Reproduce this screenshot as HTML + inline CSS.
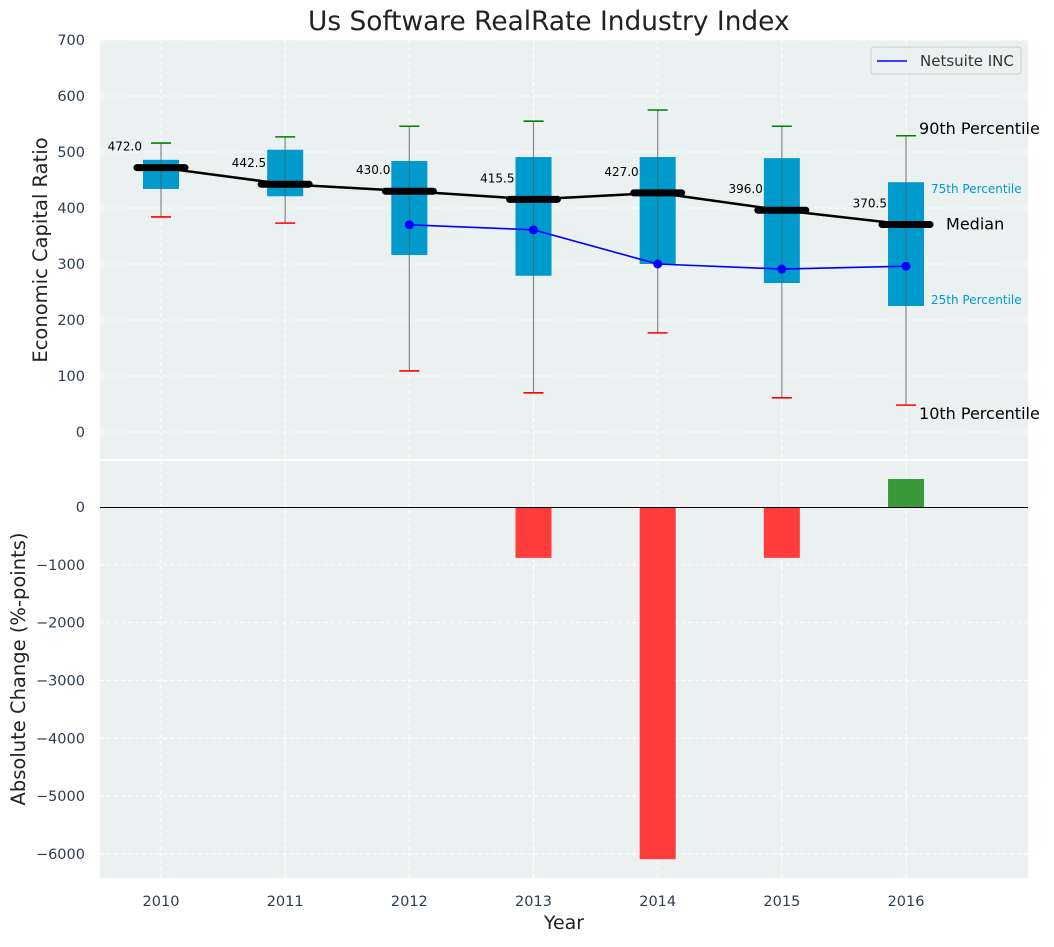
<!DOCTYPE html>
<html><head><meta charset="utf-8"><style>
body{margin:0;background:#fff;font-family:"Liberation Sans","DejaVu Sans",sans-serif}
svg text{font-family:"DejaVu Sans","Liberation Sans",sans-serif}
</style></head><body>
<svg id="c" width="1054" height="942" xmlns="http://www.w3.org/2000/svg"></svg>
<script>
const years=["2010","2011","2012","2013","2014","2015","2016"];
const p10=[384,373,109,70,177,61,48];
const p25=[434,421,316,279,300,266,225];
const medians=[472.0,442.5,430.0,415.5,427.0,396.0,370.5];
const p75=[486,504,484,491,491,489,446];
const p90=[516,527,546,555,575,546,529];
const netsuite=[null,null,370,361,300,291,296];
const changes=[null,null,null,-880,-6090,-880,484];
const yTicksTop=[0,100,200,300,400,500,600,700];
const yTicksBot=[0,-1000,-2000,-3000,-4000,-5000,-6000];

const NS="http://www.w3.org/2000/svg";
const svg=document.getElementById('c');
function el(t,a,p){const e=document.createElementNS(NS,t);for(const k in a)e.setAttribute(k,a[k]);(p||svg).appendChild(e);return e;}
const X=i=>161+i*124.17;
const Y1=v=>432-v*0.56;
const Y2=v=>507-v*0.05783;
const L=100,R=1028;
let b=el('rect',{x:L,y:40,width:R-L,height:419,fill:'#ebf0f0'});

b=el('rect',{x:L,y:461,width:R-L,height:417,fill:'#ebf0f0'});

yTicksTop.forEach(v=>{el('line',{x1:L,x2:R,y1:Y1(v),y2:Y1(v),stroke:'#fff','stroke-dasharray':'4,3'});
 const t=el('text',{x:85,y:Y1(v)+5,'text-anchor':'end','font-size':14.5,fill:'#2d3e50'});t.textContent=v;
 });
yTicksBot.forEach(v=>{el('line',{x1:L,x2:R,y1:Y2(v),y2:Y2(v),stroke:'#fff','stroke-dasharray':'4,3'});
 const t=el('text',{x:85,y:Y2(v)+5,'text-anchor':'end','font-size':14.5,fill:'#2d3e50'});t.textContent=String(v).replace('-','\u2212');
 });
years.forEach((y,i)=>{
 el('line',{x1:X(i),x2:X(i),y1:40,y2:459,stroke:'#fff','stroke-dasharray':'4,3'});
 el('line',{x1:X(i),x2:X(i),y1:461,y2:878,stroke:'#fff','stroke-dasharray':'4,3'});
 const t=el('text',{x:X(i),y:906,'text-anchor':'middle','font-size':14.5,fill:'#2d3e50'});t.textContent=y;
 
});
years.forEach((y,i)=>{
 const x=X(i);
 let w=el('line',{x1:x,x2:x,y1:Y1(p90[i]),y2:Y1(p10[i]),stroke:'#888','stroke-width':1.2});
 
 let r=el('rect',{x:x-18,y:Y1(p75[i]),width:36,height:Y1(p25[i])-Y1(p75[i]),fill:'#009acd'});
 
 el('line',{x1:x,x2:x,y1:Y1(p75[i]),y2:Y1(p25[i]),stroke:'#555','stroke-width':1,opacity:0.6});
 el('line',{x1:x-10,x2:x+10,y1:Y1(p90[i]),y2:Y1(p90[i]),stroke:'green','stroke-width':1.6});
 el('line',{x1:x-10,x2:x+10,y1:Y1(p10[i]),y2:Y1(p10[i]),stroke:'red','stroke-width':1.6});
});
let pts=medians.map((m,i)=>X(i)+','+Y1(m)).join(' ');
let ml=el('polyline',{points:pts,fill:'none',stroke:'#000','stroke-width':2.5});

medians.forEach((m,i)=>{
 let s=el('line',{x1:X(i)-24,x2:X(i)+24,y1:Y1(m),y2:Y1(m),stroke:'#000','stroke-width':7,'stroke-linecap':'round'});
 
 const t=el('text',{x:X(i)-19,y:Y1(m)-17,'text-anchor':'end','font-size':12,fill:'#000'});t.textContent=m.toFixed(1);
 
});
let np=[];netsuite.forEach((v,i)=>{if(v!==null)np.push(X(i)+','+Y1(v));});
let nl=el('polyline',{points:np.join(' '),fill:'none',stroke:'blue','stroke-width':1.6});

netsuite.forEach((v,i)=>{if(v===null)return;let c=el('circle',{cx:X(i),cy:Y1(v),r:4.5,fill:'blue'});
 });
const l6=6;
function txt(x,y,s,fs,col,name){const t=el('text',{x:x,y:y,'font-size':fs,fill:col});t.textContent=s;return t;}
txt(X(l6)+13,Y1(p90[l6])-2,'90th Percentile',16,'#000','annotation-90th');
txt(X(l6)+25,Y1(p75[l6])+11,'75th Percentile',12,'#009acd','annotation-75th');
txt(X(l6)+40,Y1(medians[l6])+5,'Median',16,'#000','annotation-median');
txt(X(l6)+25,Y1(p25[l6])-2,'25th Percentile',12,'#009acd','annotation-25th');
txt(X(l6)+13,Y1(p10[l6])+14,'10th Percentile',16,'#000','annotation-10th');
let lg=el('rect',{x:871,y:47,width:150,height:27,fill:'#ebf0f0',stroke:'#ccc',rx:3});

el('line',{x1:877,x2:907,y1:61,y2:61,stroke:'blue','stroke-width':1.6});
txt(920,66,'Netsuite INC',15,'#333','legend-entry');
changes.forEach((v,i)=>{if(v===null)return;
 const y0=Y2(0),y1=Y2(v);
 let r=el('rect',{x:X(i)-18,y:Math.min(y0,y1),width:36,height:Math.abs(y1-y0),fill:v<0?'#ff3c3c':'#3a9a3a'});
 
});
let zl=el('line',{x1:L,x2:R,y1:507.5,y2:507.5,stroke:'#000','stroke-width':1});

txt(308,30,'Us Software RealRate Industry Index',26.4,'#222','chart-title');
let t=el('text',{x:564,y:929,'text-anchor':'middle','font-size':19,fill:'#222'});t.textContent='Year';

t=el('text',{x:0,y:0,'text-anchor':'middle','font-size':19.5,fill:'#222',transform:'translate(47,250) rotate(-90)'});t.textContent='Economic Capital Ratio';

t=el('text',{x:0,y:0,'text-anchor':'middle','font-size':19.5,fill:'#222',transform:'translate(25,669) rotate(-90)'});t.textContent='Absolute Change (%-points)';

</script>
</body></html>
